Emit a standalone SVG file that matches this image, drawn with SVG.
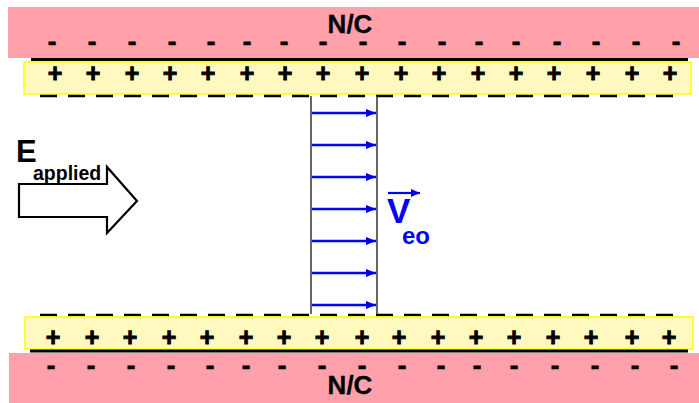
<svg xmlns="http://www.w3.org/2000/svg" width="699" height="403" viewBox="0 0 699 403">
<defs>
<style>
.pink{fill:#FFA0AA;}
.yel{fill:#FFF9C0;stroke:#FFFF00;stroke-width:1.5;}
.blk{stroke:#000;stroke-width:3;}
.dash{stroke:#000;stroke-width:2.5;stroke-dasharray:17 11;fill:none;}
.t{font-family:"Liberation Sans",Arial,sans-serif;font-weight:bold;}
.plus{font-size:25px;text-anchor:middle;fill:#000;stroke:#000;stroke-width:0.9;}
.minus{font-size:26px;text-anchor:middle;fill:#000;stroke:#000;stroke-width:0.7;}
.nc{font-size:26px;text-anchor:middle;fill:#000;stroke:#000;stroke-width:0.3;}
.vec{stroke:#0000FF;stroke-width:2.5;fill:none;}
.wall{stroke:#333;stroke-width:1.5;}
</style>
<marker id="ah" markerWidth="10" markerHeight="8" refX="10" refY="4" orient="auto" markerUnits="userSpaceOnUse">
<path d="M0,0 L10,4 L0,8 Z" fill="#0000FF"/>
</marker>
<marker id="ah2" markerWidth="9" markerHeight="8" refX="9" refY="4" orient="auto" markerUnits="userSpaceOnUse">
<path d="M0,0 L9,4 L0,8 Z" fill="#0000FF"/>
</marker>
</defs>
<rect width="699" height="403" fill="#fff"/>

<g id="top-wall">
<rect class="pink" x="8" y="7" width="691" height="51"/>
<text class="t nc" x="350" y="33">N/C</text>
<g class="t minus">
<text x="52" y="50">-</text><text x="92" y="50">-</text><text x="132" y="50">-</text><text x="172" y="50">-</text><text x="211" y="50">-</text><text x="247" y="50">-</text><text x="284" y="50">-</text><text x="323" y="50">-</text><text x="363" y="50">-</text><text x="402" y="50">-</text><text x="442" y="50">-</text><text x="479" y="50">-</text><text x="516" y="50">-</text><text x="557" y="50">-</text><text x="596" y="50">-</text><text x="636" y="50">-</text><text x="676" y="50">-</text>
</g>
<line class="blk" x1="31" y1="59.5" x2="688" y2="59.5"/>
</g>

<g id="top-layer">
<rect class="yel" x="24" y="62" width="667" height="32"/>
<g class="t plus">
<text x="55" y="82">+</text><text x="93" y="82">+</text><text x="132" y="82">+</text><text x="170" y="82">+</text><text x="208" y="82">+</text><text x="247" y="82">+</text><text x="285" y="82">+</text><text x="323" y="82">+</text><text x="362" y="82">+</text><text x="401" y="82">+</text><text x="439" y="82">+</text><text x="478" y="82">+</text><text x="516" y="82">+</text><text x="554" y="82">+</text><text x="593" y="82">+</text><text x="632" y="82">+</text><text x="670" y="82">+</text>
</g>
<line class="dash" x1="40" y1="96" x2="682" y2="96"/>
</g>

<g id="bottom-layer">
<line class="dash" x1="40" y1="315" x2="682" y2="315"/>
<rect class="yel" x="25" y="317" width="668" height="32"/>
<g class="t plus">
<text x="53" y="346">+</text><text x="92" y="346">+</text><text x="130" y="346">+</text><text x="169" y="346">+</text><text x="207" y="346">+</text><text x="246" y="346">+</text><text x="284" y="346">+</text><text x="322" y="346">+</text><text x="362" y="346">+</text><text x="399" y="346">+</text><text x="438" y="346">+</text><text x="476" y="346">+</text><text x="514" y="346">+</text><text x="553" y="346">+</text><text x="591" y="346">+</text><text x="632" y="346">+</text><text x="669" y="346">+</text>
</g>
</g>

<g id="bottom-wall">
<rect class="pink" x="9" y="353" width="690" height="50"/>
<line class="blk" x1="30" y1="351" x2="688" y2="351"/>
<g class="t minus">
<text x="51" y="374">-</text><text x="91" y="374">-</text><text x="131" y="374">-</text><text x="171" y="374">-</text><text x="210" y="374">-</text><text x="246" y="374">-</text><text x="282" y="374">-</text><text x="322" y="374">-</text><text x="362" y="374">-</text><text x="402" y="374">-</text><text x="441" y="374">-</text><text x="477" y="374">-</text><text x="514" y="374">-</text><text x="555" y="374">-</text><text x="595" y="374">-</text><text x="635" y="374">-</text><text x="674" y="374">-</text>
</g>
<text class="t nc" x="350" y="394">N/C</text>
</g>

<g id="plug-profile">
<line class="wall" x1="311" y1="96" x2="311" y2="314"/>
<line class="wall" x1="377" y1="96" x2="377" y2="314"/>
</g>

<g id="connectors">
<line class="vec" x1="312" y1="113" x2="376" y2="113" marker-end="url(#ah)"/>
<line class="vec" x1="312" y1="145" x2="376" y2="145" marker-end="url(#ah)"/>
<line class="vec" x1="312" y1="177" x2="376" y2="177" marker-end="url(#ah)"/>
<line class="vec" x1="312" y1="209" x2="376" y2="209" marker-end="url(#ah)"/>
<line class="vec" x1="312" y1="241" x2="376" y2="241" marker-end="url(#ah)"/>
<line class="vec" x1="312" y1="273" x2="376" y2="273" marker-end="url(#ah)"/>
<line class="vec" x1="312" y1="305" x2="376" y2="305" marker-end="url(#ah)"/>
</g>

<g id="veo-label">
<line x1="388" y1="193" x2="420" y2="193" stroke="#0000FF" stroke-width="2.2" marker-end="url(#ah2)"/>
<text class="t" x="387" y="223" font-size="35" fill="#0000FF">V</text>
<text class="t" x="402" y="244" font-size="24" fill="#0000FF">eo</text>
</g>

<g id="e-applied">
<polygon points="19,184 107,184 107,167 137,201 107,233 107,217 19,217" fill="#fff" stroke="#000" stroke-width="2.2"/>
<text class="t" x="16" y="162" font-size="31" fill="#000">E</text>
<text class="t" x="33" y="180" font-size="19.5" fill="#000">applied</text>
</g>
</svg>
